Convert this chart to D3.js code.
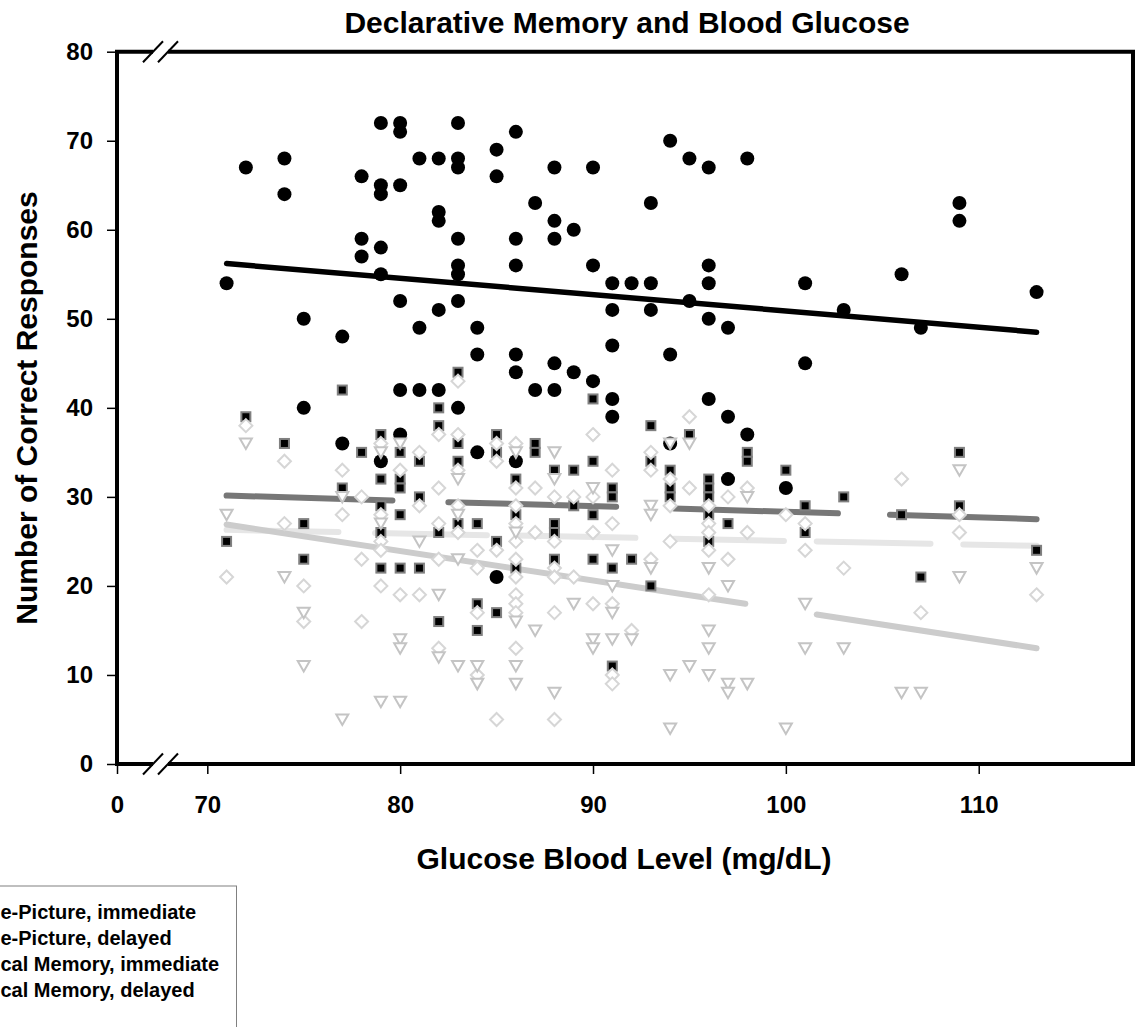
<!DOCTYPE html>
<html>
<head>
<meta charset="utf-8">
<script src="https://cdn.jsdelivr.net/npm/d3@7/dist/d3.min.js"></script>
<style>
    body { margin: 0; background: #fff; }
    svg text { font-family: "Liberation Sans", Arial, sans-serif; font-weight: bold; fill: #000; }
</style>
</head>
<body>
<div id="chart"></div>
<script>
// glucose (mg/dL), correct responses
const facePicImmediate = [[71,54],[72,67],[74,68],[74,64],[75,50],[75,40],[77,48],[77,36],[78,66],[78,59],[78,57],
    [79,72],[79,65],[79,64],[79,58],[79,55],[79,34],[80,72],[80,71],[80,65],[80,52],[80,42],[80,37],[81,68],[81,49],[81,42],
    [82,68],[82,62],[82,61],[82,51],[82,42],[83,72],[83,68],[83,67],[83,59],[83,56],[83,55],[83,52],[83,40],[84,49],[84,46],
    [84,35],[85,69],[85,66],[85,21],[86,71],[86,59],[86,56],[86,46],[86,44],[86,34],[87,63],[87,42],[88,67],[88,61],[88,59],
    [88,45],[88,42],[89,60],[89,44],[90,67],[90,56],[90,43],[91,54],[91,51],[91,47],[91,41],[91,39],[92,54],[93,63],[93,54],
    [93,51],[94,70],[94,46],[94,36],[95,68],[95,52],[96,67],[96,56],[96,54],[96,50],[96,41],[97,49],[97,39],[97,32],[98,68],
    [98,37],[100,31],[101,54],[101,45],[103,51],[106,55],[107,49],[109,63],[109,61],[113,53]];

const facePicDelayed = [[71,25],[72,39],[74,36],[75,27],[75,23],[77,42],[77,31],[78,35],[79,37],[79,32],[79,29],[79,26],
    [79,22],[80,35],[80,32],[80,31],[80,28],[80,22],[81,34],[81,30],[81,22],[82,40],[82,38],[82,26],[82,16],[83,44],[83,36],
    [83,34],[83,27],[84,27],[84,18],[84,15],[85,37],[85,35],[85,25],[85,17],[86,32],[86,28],[86,22],[87,36],[87,35],[88,33],
    [88,27],[88,26],[88,23],[89,33],[89,29],[90,41],[90,34],[90,28],[90,23],[91,31],[91,30],[91,22],[91,11],[92,23],[93,38],
    [93,34],[93,20],[94,33],[94,31],[94,30],[95,37],[96,32],[96,31],[96,30],[96,28],[96,25],[97,27],[98,35],[98,34],[100,33],
    [101,29],[101,26],[103,30],[106,28],[107,21],[109,35],[109,29],[113,24]];

const logicalImmediate = [[71,21],[72,38],[74,34],[74,27],[75,20],[75,16],[77,33],[77,28],[78,30],[78,23],[78,16],[79,36],
    [79,28],[79,25],[79,24],[79,20],[80,33],[80,19],[81,35],[81,29],[81,19],[82,37],[82,31],[82,27],[82,23],[82,13],[83,43],
    [83,37],[83,33],[83,29],[83,26],[84,24],[84,22],[84,17],[84,10],[85,36],[85,34],[85,24],[85,5],[86,36],[86,31],[86,29],
    [86,27],[86,25],[86,23],[86,21],[86,19],[86,18],[86,17],[86,13],[87,31],[87,26],[88,30],[88,25],[88,22],[88,21],[88,17],
    [88,5],[89,30],[89,21],[90,37],[90,30],[90,26],[90,18],[91,33],[91,27],[91,18],[91,10],[91,9],[92,15],[93,35],[93,33],
    [93,23],[94,32],[94,29],[94,25],[95,39],[95,31],[96,29],[96,27],[96,26],[96,24],[96,19],[97,30],[97,23],[98,31],[98,26],
    [100,28],[101,27],[101,24],[103,22],[106,32],[107,17],[109,28],[109,26],[113,19]];

const logicalDelayed = [[71,28],[72,36],[74,21],[75,17],[75,11],[77,30],[77,5],[79,35],[79,27],[79,7],[80,36],[80,14],
    [80,13],[80,7],[81,25],[82,19],[82,12],[83,32],[83,28],[83,23],[83,11],[84,11],[84,9],[86,35],[86,26],[86,16],[86,11],
    [86,9],[87,15],[88,35],[88,32],[88,8],[89,18],[90,31],[90,14],[90,13],[91,24],[91,20],[91,17],[91,14],[92,14],[93,29],
    [93,28],[93,22],[94,36],[94,10],[94,4],[95,36],[95,11],[96,22],[96,15],[96,13],[96,10],[97,20],[97,9],[97,8],[98,30],
    [98,9],[100,4],[101,18],[101,13],[103,13],[106,8],[107,8],[109,33],[109,21],[113,22]];

// fitted lines, drawn in pieces like the original
const trendFPImmediate = [[[71,56.2],[113,48.5]]];
const trendFPDelayed = [[[71,30.15],[79.6,29.6]],[[82.5,29.4],[91.2,28.9]],[[94.2,28.7],[102.7,28.15]],[[105.4,28.0],[113,27.5]]];
const trendLMImmediate = [[[71,26.3],[76.8,26.05]],[[78.7,25.95],[84.5,25.7]],[[86,25.65],[92.2,25.4]],
    [[94.2,25.3],[99.9,25.05]],[[101.6,25.0],[107.5,24.75]],[[109.2,24.65],[113,24.5]]];
const trendLMDelayed = [[[71,26.9],[97.9,18.0]],[[101.6,16.8],[113,13.0]]];

const xTicks = [0, 70, 80, 90, 100, 110];
const yTicks = [0, 10, 20, 30, 40, 50, 60, 70, 80];
// the legend sits half off the page, only these parts of the labels are visible
const legendLabels = ["e-Picture, immediate", "e-Picture, delayed", "cal Memory, immediate", "cal Memory, delayed"];

const W = 1145, H = 1027;
const plot = { left: 117, top: 51.7, right: 1133, bottom: 764 };

const svg = d3.select("#chart").append("svg")
    .attr("width", W).attr("height", H);

// x axis is broken between 0 and 70
const x = d3.scaleLinear().domain([0, 70, 118]).range([plot.left, 207.3, plot.right]);
const y = d3.scaleLinear().domain([0, 80]).range([plot.bottom, plot.top]);

// trend lines under the markers
function drawTrend(pieces, color, width) {
    svg.append("g").selectAll("line")
        .data(pieces)
        .enter().append("line")
        .attr("x1", d => x(d[0][0])).attr("y1", d => y(d[0][1]))
        .attr("x2", d => x(d[1][0])).attr("y2", d => y(d[1][1]))
        .attr("stroke", color)
        .attr("stroke-width", width)
        .attr("stroke-linecap", "round");
}
drawTrend(trendLMImmediate, "#e6e6e6", 6);
drawTrend(trendLMDelayed, "#cccccc", 6);
drawTrend(trendFPDelayed, "#777777", 6);
drawTrend(trendFPImmediate, "#000000", 5.5);

// markers
svg.append("g").selectAll("circle")
    .data(facePicImmediate)
    .enter().append("circle")
    .attr("cx", d => x(d[0])).attr("cy", d => y(d[1]))
    .attr("r", 7)
    .attr("fill", "#000");

svg.append("g").selectAll("rect")
    .data(facePicDelayed)
    .enter().append("rect")
    .attr("x", d => x(d[0]) - 4.5).attr("y", d => y(d[1]) - 4.5)
    .attr("width", 9).attr("height", 9)
    .attr("fill", "#000")
    .attr("stroke", "#808080")
    .attr("stroke-width", 2);

svg.append("g").selectAll("path")
    .data(logicalImmediate)
    .enter().append("path")
    .attr("d", "M0,-6.5L6.5,0L0,6.5L-6.5,0Z")
    .attr("transform", d => `translate(${x(d[0])},${y(d[1])})`)
    .attr("fill", "#fff")
    .attr("stroke", "#d6d6d6")
    .attr("stroke-width", 2);

svg.append("g").selectAll("path")
    .data(logicalDelayed)
    .enter().append("path")
    .attr("d", "M-6,-5L6,-5L0,5.5Z")
    .attr("transform", d => `translate(${x(d[0])},${y(d[1])})`)
    .attr("fill", "#fff")
    .attr("stroke", "#c4c4c4")
    .attr("stroke-width", 2);

// axes: ticks and labels only, the frame is drawn by hand
const xAxis = svg.append("g")
    .attr("transform", `translate(0,${plot.bottom})`)
    .call(d3.axisBottom(x).tickValues(xTicks).tickSize(10).tickPadding(22));
const yAxis = svg.append("g")
    .attr("transform", `translate(${plot.left},0)`)
    .call(d3.axisLeft(y).tickValues(yTicks).tickSize(10).tickPadding(14));
[xAxis, yAxis].forEach(a => {
    a.select(".domain").remove();
    a.selectAll(".tick line").attr("stroke", "#000").attr("stroke-width", 1.5);
    a.selectAll(".tick text").style("font-size", "24px").style("font-family", "Liberation Sans, Arial, sans-serif")
        .style("font-weight", "bold").attr("fill", "#000");
});

// frame with the break marks
const brk = [153, 168];
const frame = svg.append("g").attr("stroke", "#000").attr("stroke-width", 4).attr("fill", "none");
frame.append("line").attr("x1", plot.left).attr("y1", plot.top).attr("x2", plot.left).attr("y2", plot.bottom);
frame.append("line").attr("x1", plot.right).attr("y1", plot.top).attr("x2", plot.right).attr("y2", plot.bottom);
[plot.top, plot.bottom].forEach(yy => {
    frame.append("line").attr("x1", plot.left - 2).attr("y1", yy).attr("x2", brk[0]).attr("y2", yy);
    frame.append("line").attr("x1", brk[1]).attr("y1", yy).attr("x2", plot.right + 2).attr("y2", yy);
    [brk[0], brk[1]].forEach(bx => {
        svg.append("line")
            .attr("x1", bx - 10).attr("y1", yy + 10.5)
            .attr("x2", bx + 10).attr("y2", yy - 10.5)
            .attr("stroke", "#000").attr("stroke-width", 2);
    });
});

// titles
svg.append("text")
    .attr("x", 627).attr("y", 33)
    .attr("text-anchor", "middle")
    .style("font-size", "30px")
    .text("Declarative Memory and Blood Glucose");

svg.append("text")
    .attr("x", 624).attr("y", 869)
    .attr("text-anchor", "middle")
    .style("font-size", "30px")
    .text("Glucose Blood Level (mg/dL)");

svg.append("text")
    .attr("transform", "translate(37,408) rotate(-90)")
    .attr("text-anchor", "middle")
    .style("font-size", "30px")
    .text("Number of Correct Responses");

// legend box runs off the left and bottom edges
const legend = svg.append("g");
legend.append("rect")
    .attr("x", -80).attr("y", 886)
    .attr("width", 316.5).attr("height", 200)
    .attr("fill", "#fff")
    .attr("stroke", "#808080")
    .attr("stroke-width", 1);

legend.selectAll("text")
    .data(legendLabels)
    .enter().append("text")
    .attr("x", 0.5)
    .attr("y", (d, i) => 919 + i * 26)
    .style("font-size", "20px")
    .text(d => d);
</script>
</body>
</html>
